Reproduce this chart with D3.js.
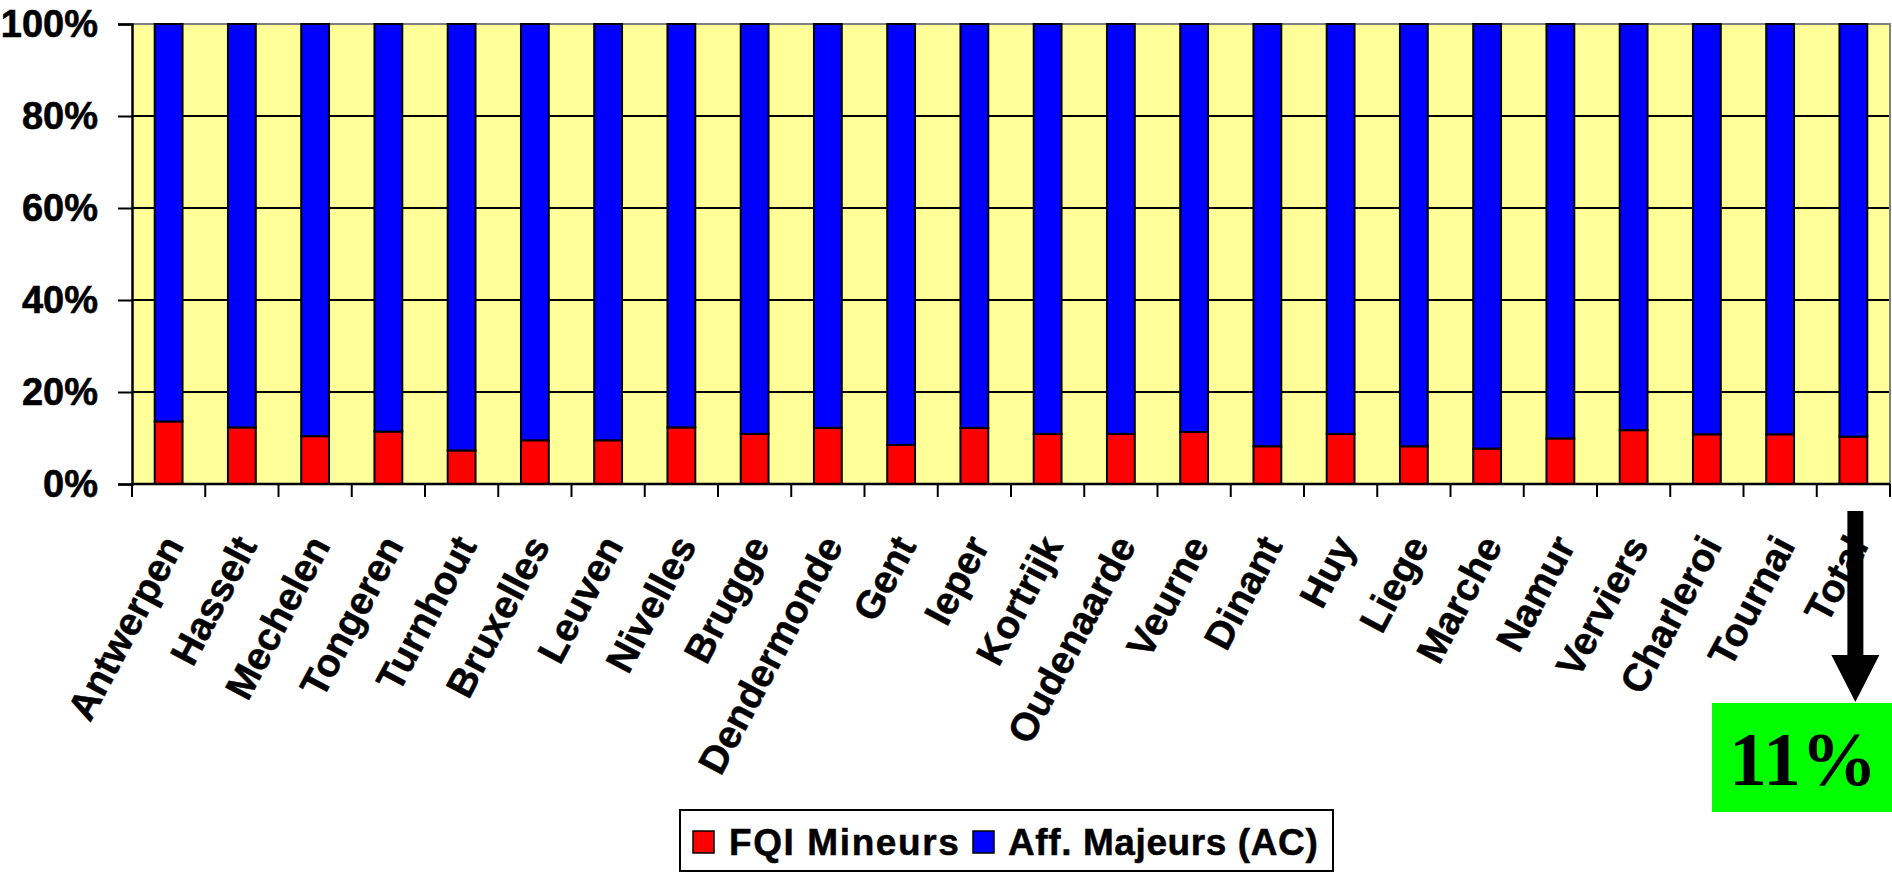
<!DOCTYPE html>
<html>
<head>
<meta charset="utf-8">
<script src="https://cdn.jsdelivr.net/npm/d3@7"></script>
<style>
  html, body { margin: 0; padding: 0; background: #fff; }
  svg { display: block; }
  text { font-family: "Liberation Sans", Arial, sans-serif; font-weight: bold; fill: #000; }
</style>
</head>
<body>
<svg id="chart" width="1892" height="872"></svg>
<script>
const categories = ["Antwerpen","Hasselt","Mechelen","Tongeren","Turnhout","Bruxelles","Leuven","Nivelles","Brugge","Dendermonde","Gent","Ieper","Kortrijk","Oudenaarde","Veurne","Dinant","Huy","Liege","Marche","Namur","Verviers","Charleroi","Tournai","Total"];
const fqiMineurs = [13.6,12.3,10.4,11.4,7.3,9.5,9.5,12.3,10.9,12.2,8.5,12.2,10.9,10.9,11.3,8.2,10.9,8.2,7.7,9.9,11.7,10.8,10.8,10.3];
const affMajeurs = fqiMineurs.map(v => 100 - v);
const seriesNames = ["FQI Mineurs", "Aff. Majeurs (AC)"];
const seriesColors = ["#FF0000", "#0000FF"];
const yTicks = [0, 20, 40, 60, 80, 100];
const calloutText = "11%";

const svg = d3.select("#chart");
const m = { left: 132, right: 1890, top: 24, bottom: 484 };

const x = d3.scaleBand().domain(categories).range([m.left, m.right]).padding(0);
const y = d3.scaleLinear().domain([0, 100]).range([m.bottom, m.top]);
const barW = x.bandwidth() * 0.38;

// plot background
svg.append("rect").attr("x", m.left).attr("y", m.top)
  .attr("width", m.right - m.left).attr("height", m.bottom - m.top)
  .attr("fill", "#FFFF99");

// gridlines
svg.append("g").selectAll("line").data(yTicks.filter(t => t > 0 && t < 100)).join("line")
  .attr("x1", m.left).attr("x2", m.right)
  .attr("y1", d => y(d)).attr("y2", d => y(d))
  .attr("stroke", "#000").attr("stroke-width", 2);

// top & right border (gray)
svg.append("path")
  .attr("d", `M${m.left},${y(100)}H${m.right}V${m.bottom}`)
  .attr("fill", "none").attr("stroke", "#808080").attr("stroke-width", 2);

// stacked data
const stackData = categories.map((c, i) => ({ cat: c, a: fqiMineurs[i], b: affMajeurs[i] }));
const stack = d3.stack().keys(["a", "b"])(stackData);

svg.append("g").selectAll("g").data(stack).join("g")
  .attr("fill", (d, i) => seriesColors[i])
  .selectAll("rect").data(d => d).join("rect")
  .attr("x", d => x(d.data.cat) + (x.bandwidth() - barW) / 2)
  .attr("width", barW)
  .attr("y", d => y(d[1]))
  .attr("height", d => y(d[0]) - y(d[1]))
  .attr("stroke", "#000").attr("stroke-width", 2);

// y axis
const yAxis = d3.axisLeft(y).tickValues(yTicks).tickFormat(d => d + "%").tickSize(14).tickPadding(20);
const gy = svg.append("g").attr("transform", `translate(${m.left},0)`).call(yAxis);
gy.select(".domain").attr("stroke", "#000").attr("stroke-width", 2.5);
gy.selectAll(".tick line").attr("stroke", "#000").attr("stroke-width", 2);
gy.selectAll(".tick text").style("font-size", "38px").style("font-family", "'Liberation Sans', Arial, sans-serif")
  .style("font-weight", "bold").attr("fill", "#000").attr("stroke", "#000").attr("stroke-width", 0.6);

// x axis line
svg.append("line").attr("x1", m.left).attr("x2", m.right).attr("y1", m.bottom).attr("y2", m.bottom)
  .attr("stroke", "#000").attr("stroke-width", 2.5);
// x ticks at band boundaries
const bounds = categories.map(c => x(c)).concat([x.range()[1]]);
svg.append("g").selectAll("line").data(bounds).join("line")
  .attr("x1", d => d).attr("x2", d => d)
  .attr("y1", m.bottom).attr("y2", m.bottom + 13)
  .attr("stroke", "#000").attr("stroke-width", 2);

// x labels
svg.append("g").selectAll("text").data(categories).join("text")
  .attr("transform", d => `translate(${x(d) + x.bandwidth() / 2 + 4},${539}) rotate(-62)`)
  .attr("text-anchor", "end")
  .attr("dy", "0.35em")
  .style("font-size", "39px")
  .attr("stroke", "#000").attr("stroke-width", 0.5)
  .text(d => d);

// arrow
const ax = x("Total") + x.bandwidth() / 2 + 2;
svg.append("rect").attr("x", ax - 8).attr("y", 511).attr("width", 16).attr("height", 146).attr("fill", "#000");
svg.append("path").attr("d", `M${ax - 24},655L${ax + 24},655L${ax},702Z`).attr("fill", "#000");

// green callout
svg.append("rect").attr("x", 1712).attr("y", 703).attr("width", 180).attr("height", 109).attr("fill", "#00FF00");
svg.append("text").attr("x", 1803).attr("y", 785).attr("text-anchor", "middle")
  .style("font-family", "'Liberation Serif', 'Times New Roman', serif")
  .style("font-size", "76px").style("font-weight", "bold")
  .text(calloutText);

// legend
const lg = svg.append("g");
lg.append("rect").attr("x", 680).attr("y", 810).attr("width", 653).attr("height", 61)
  .attr("fill", "#fff").attr("stroke", "#000").attr("stroke-width", 2);
const legendItems = [
  { name: seriesNames[0], color: seriesColors[0], sx: 693, tx: 729, ls: 1.6 },
  { name: seriesNames[1], color: seriesColors[1], sx: 973, tx: 1008, ls: 0.6 }
];
legendItems.forEach(it => {
  lg.append("rect").attr("x", it.sx).attr("y", 831).attr("width", 21).attr("height", 22)
    .attr("fill", it.color).attr("stroke", "#000").attr("stroke-width", 1.5);
  lg.append("text").attr("x", it.tx).attr("y", 855).style("font-size", "37px")
    .style("letter-spacing", it.ls + "px")
    .attr("stroke", "#000").attr("stroke-width", 0.5)
    .text(it.name);
});
</script>
</body>
</html>
